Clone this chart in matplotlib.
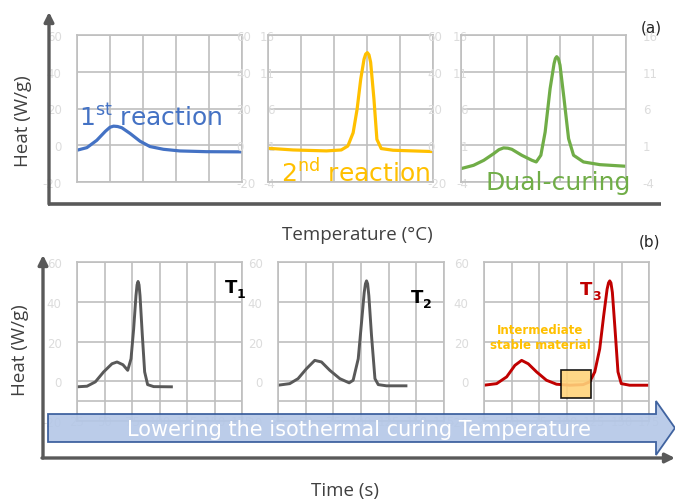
import matplotlib.pyplot as plt
import matplotlib.patches as mpatches

plt.rcParams['axes.unicode_minus'] = False

# ---- data ----
# top row: x in grid columns (0..5)
first_x = [0, 0.30, 0.60, 0.86, 1.0, 1.11, 1.23, 1.36, 1.61, 1.91, 2.21, 2.62, 3.12, 3.92, 5.0]
first_y = [-2.7, -1.3, 2.7, 7.6, 9.8, 10.4, 10.2, 9.5, 6.4, 2.2, -0.7, -2.2, -3.1, -3.5, -3.6]

second_x = [0, 0.76, 1.77, 2.22, 2.42, 2.58, 2.70, 2.81, 2.91, 2.96, 3.01, 3.06, 3.11, 3.21, 3.30,
            3.43, 3.79, 5.0]
second_y = [0.59, 0.36, 0.23, 0.36, 0.9, 2.7, 5.9, 10.0, 12.7, 13.4, 13.6, 13.3, 12.3, 7.3, 1.8,
            0.55, 0.32, 0.14]

dual_x = [0, 0.38, 0.69, 0.99, 1.15, 1.29, 1.42, 1.54, 1.84, 2.15, 2.28, 2.42, 2.55, 2.70, 2.82,
          2.86, 2.90, 2.95, 3.00, 3.12, 3.26, 3.41, 3.71, 4.21, 5.0]
dual_y = [-2.18, -1.73, -1.05, -0.14, 0.4, 0.64, 0.6, 0.45, -0.36, -1.05, -1.27, -0.36, 2.8, 8.7,
          12.1, 12.8, 13.05, 12.8, 11.9, 7.4, 1.9, -0.36, -1.27, -1.64, -1.86]

# bottom row: time axis 25..175
t1_x = [25, 34.1, 41.7, 49.2, 56.8, 61.4, 66.8, 71.1, 74.1, 76.5, 78.6, 79.6, 80.5, 81.4, 82.3,
        84.4, 86.5, 89.2, 94.7, 110.8]
t1_y = [-2.8, -2.5, -0.3, 4.7, 8.8, 9.7, 8.3, 5.5, 11.3, 26.3, 43, 48.5, 50.2, 48.5, 43,
        23, 4.7, -1.7, -2.7, -2.8]

t2_x = [25, 35.6, 43.1, 50.7, 58.2, 64.3, 71.8, 80.9, 89.3, 92.9, 97.5, 100.5, 102.9, 104, 105,
        106, 107.1, 109.5, 112.6, 115.6, 123.1, 140.6]
t2_y = [-2, -1.2, 1.3, 6.3, 10.5, 9.7, 5.5, 1.3, -0.8, 0.5, 11.3, 29.7, 44.7, 49, 50.5,
        49, 43, 23, 1.3, -1.7, -2.3, -2.3]

t3_x = [25, 36.5, 45.6, 53.1, 59.2, 65.2, 72.8, 81.8, 90.9, 103, 115.1, 121.1, 125.7, 130.2,
        133.8, 136.9, 138.2, 139.3, 140.4, 141.7, 144.1, 146.8, 149.8, 157.4, 175]
t3_y = [-2, -1.2, 2.2, 8, 10.5, 8.8, 4.7, 0.5, -1.5, -2, -1.7, -0.3, 4.7, 16.3,
        33, 46.3, 49.5, 50.5, 49.5, 44.7, 26.3, 4.7, -1.2, -2, -2]

heat_ticks = [-20, 0, 20, 40, 60]
small_ticks = [-4, 1, 6, 11, 16]
time_ticks = [25, 50, 75, 100, 125, 150, 175]
plateau = (95.4, 122.6, -8.2, 5.5)   # x0, x1, y0, y1 of the highlighted region

W, H = 675, 502
GRID = '#BFBFBF'
FAINT = '#DCDCDC'

fig = plt.figure(figsize=(W / 100, H / 100), dpi=100)


def rect(x0, y0, x1, y1):
    return [x0 / W, 1 - y1 / H, (x1 - x0) / W, (y1 - y0) / H]


def panel(r, xlim, xticks, ylim, yticks, ylabels, lpad):
    ax = fig.add_axes(r)
    ax.set_xlim(*xlim)
    ax.set_ylim(*ylim)
    ax.set_xticks(xticks)
    ax.set_yticks(yticks)
    ax.set_yticklabels(ylabels)
    ax.grid(True, color=GRID, lw=1.2)
    ax.set_axisbelow(True)
    for s in ax.spines.values():
        s.set_color(GRID)
        s.set_linewidth(1.2)
    ax.tick_params(length=0, colors=FAINT, labelsize=8.5)
    ax.tick_params(axis='y', pad=lpad)
    return ax


def right_labels(ax, ylim, yticks, pad):
    tw = ax.twinx()
    tw.set_ylim(*ylim)
    tw.set_yticks(yticks)
    for s in tw.spines.values():
        s.set_visible(False)
    tw.tick_params(length=0, colors=FAINT, labelsize=8.5, pad=pad)
    return tw


# ---- top row ----
a1 = panel(rect(77, 36, 242, 183), (0, 5), range(6), (-20, 60), heat_ticks,
           [str(v) for v in heat_ticks], 11)
a1.set_xticklabels([])
right_labels(a1, (-20, 60), heat_ticks, -4)
a1.plot(first_x, first_y, color='#4472C4', lw=2.3)

a2 = panel(rect(268, 36, 433, 183), (0, 5), range(6), (-4, 16), small_ticks,
           [str(v) for v in small_ticks], -5)
a2.set_xticklabels([])
right_labels(a2, (-20, 60), heat_ticks, -4)
a2.plot(second_x, second_y, color='#FFC000', lw=2.3)

a3 = panel(rect(461, 36, 626, 183), (0, 5), range(6), (-4, 16), small_ticks,
           [str(v) for v in small_ticks], -5)
a3.set_xticklabels([])
right_labels(a3, (-4, 16), small_ticks, 12)
a3.plot(dual_x, dual_y, color='#70AD47', lw=2.3)

# ---- bottom row ----
bt = [-20, -10, 0, 20, 40, 60]
bl = ['-20', '', '0', '20', '40', '60']
bottoms = []
for x0, x1, xs, ys, c in [(77, 242, t1_x, t1_y, '#595959'),
                          (278, 444, t2_x, t2_y, '#595959'),
                          (484, 649, t3_x, t3_y, '#C00000')]:
    ax = panel(rect(x0, 263, x1, 422), (25, 175), time_ticks, (-20, 60), bt, bl, 11)
    ax.tick_params(axis='x', pad=-4)
    ax.plot(xs, ys, color=c, lw=2.1)
    bottoms.append(ax)

b3 = bottoms[2]
b3.add_patch(mpatches.Rectangle((plateau[0], plateau[2]), plateau[1] - plateau[0],
                                plateau[3] - plateau[2], facecolor='#FFD37A', alpha=0.9,
                                edgecolor='black', lw=1.2, zorder=3))

# ---- overlay: axes arrows, labels, big arrow ----
ov = fig.add_axes([0, 0, 1, 1])
ov.set_xlim(0, W)
ov.set_ylim(H, 0)
ov.axis('off')

AX = '#595959'
arr = dict(arrowstyle='-|>', color=AX, lw=2.4, mutation_scale=14, shrinkA=0, shrinkB=0)
ov.annotate('', xy=(49, 13), xytext=(49, 205), arrowprops=arr)
ov.plot([48, 661], [205, 205], color=AX, lw=2.6, solid_capstyle='butt')
ov.annotate('', xy=(43, 256), xytext=(43, 459), arrowprops=arr)
ov.annotate('', xy=(675, 459), xytext=(42, 459), arrowprops=arr)

big = mpatches.Polygon([(48, 415), (656, 415), (656, 402), (675, 429), (656, 456),
                        (656, 443), (48, 443)], closed=True, facecolor='#B4C7E7',
                       alpha=0.9, edgecolor='#2F5597', lw=1.3)
ov.add_patch(big)
ov.text(359, 430, 'Lowering the isothermal curing Temperature', color='white',
        fontsize=15, family='DejaVu Sans', ha='center', va='center')

lab = dict(color='#404040', family='Open Sans', fontsize=13.5)
ov.text(357, 235, 'Temperature (°C)', ha='center', va='center', **lab)
ov.text(23, 121, 'Heat (W/g)', ha='center', va='center', rotation=90, **lab)
ov.text(20, 350, 'Heat (W/g)', ha='center', va='center', rotation=90, **lab)
ov.text(345, 491, 'Time (s)', ha='center', va='center', **lab)
ov.text(651, 28, '(a)', ha='center', va='center', fontsize=11, color='#262626')
ov.text(649, 242, '(b)', ha='center', va='center', fontsize=11, color='#262626')

big_txt = dict(family='DejaVu Sans', fontsize=18, va='baseline')
ov.text(79, 126, '1$^{\\mathregular{st}}$ reaction', color='#4472C4', **big_txt)
ov.text(281, 182, '2$^{\\mathregular{nd}}$ reaction', color='#FFC000', **big_txt)
ov.text(485, 190, 'Dual-curing', color='#70AD47', **big_txt)

for tx, ty, sub, c in [(225, 293, '1', 'black'), (411, 303, '2', 'black'), (580, 295, '3', '#C00000')]:
    ov.text(tx, ty, 'T', color=c, fontsize=13, fontweight='bold', va='baseline')
    ov.text(tx + 12, ty + 5, sub, color=c, fontsize=9, fontweight='bold', va='baseline')

ov.text(540, 338, 'Intermediate\nstable material', color='#FFC000', fontsize=8.5,
        fontweight='bold', ha='center', va='center', linespacing=1.2)

fig.savefig('out.png', dpi=100)
